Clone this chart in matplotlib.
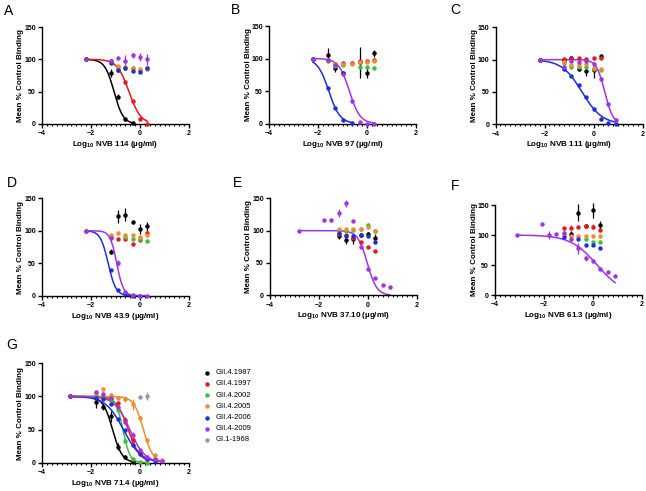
import numpy as np
import matplotlib.pyplot as plt
from matplotlib.ticker import MultipleLocator

plt.rcParams['font.family'] = ['Liberation Sans', 'DejaVu Sans']
plt.rcParams['mathtext.fontset'] = 'custom'
plt.rcParams['mathtext.rm'] = 'Liberation Sans'
plt.rcParams['mathtext.bf'] = 'Liberation Sans:bold'

nan = np.nan

# strains (legend order) and colours
strains = ['GII.4.1987', 'GII.4.1997', 'GII.4.2002', 'GII.4.2005',
           'GII.4-2006', 'GII.4-2009', 'GI.1-1968']
keys = ['1987', '1997', '2002', '2005', '2006', '2009', '1968']
colors = ['#000000', '#e8161f', '#3cbf3c', '#f28a2e', '#1f2fd6', '#a133e6', '#9a9a9a']

# ---- panel A : NVB 114
a_x = [-2.2, -1.2, -0.9, -0.6, -0.3, 0.0, 0.3]
a_mean = {
    '1987': [100, 79, 42, 7, 1, nan, nan],
    '1997': [100, 97, 83, 65, 35, 7, 0],
    '2002': [100, 96, 88, 87, 86, 84, 85],
    '2005': [100, 97, 90, 88, 87, 85, 86],
    '2006': [100, 95, 84, 86, 82, 81, 86],
    '2009': [100, 98, 102, 97, 106, 104, 100],
}
a_sd = {'1987': [0, 6, 4, 2, 0, 0, 0],
        '1997': [0, 2, 2, 3, 2, 1, 0],
        '2009': [0, 2, 2, 10, 4, 6, 9]}
a_fit = {'1987': (-1.06, 2.3), '1997': (-0.45, 1.8)}

# ---- panel B : NVB 97
b_x = [-2.2, -1.6, -1.3, -1.0, -0.6, -0.3, 0.0, 0.3]
b_mean = {
    '1987': [100, 106, 86, 77, nan, 94, 78, 108],
    '1997': [100, 98, 92, 93, 93, 96, 96, 97],
    '2002': [100, 96, 89, 90, nan, 87, 87, 85],
    '2005': [100, 97, 91, 92, 92, 95, 94, 96],
    '2006': [100, 54, 24, 5, 1, nan, nan, nan],
    '2009': [100, 97, 90, 76, 34, 3, 0, 0],
}
b_sd = {'1987': [0, 10, 6, 2, 0, 24, 8, 5],
        '2009': [0, 2, 2, 3, 3, 1, 0, 0]}
b_fit = {'2006': (-1.56, 1.9), '2009': (-0.72, 2.0)}

# ---- panel C : NVB 111
c_x = [-2.2, -1.2, -0.9, -0.6, -0.3, 0.0, 0.3, 0.6, 0.9]
c_mean = {
    '1987': [100, 100, 103, 85, 83, 84, 105, nan, nan],
    '1997': [100, 101, 103, 102, 101, 102, 102, nan, nan],
    '2002': [100, 95, 89, 88, 89, 86, 84, nan, nan],
    '2005': [100, 97, 92, 91, 93, 87, 85, nan, nan],
    '2006': [100, 86, 75, 61, 42, 24, 8, 2, 1],
    '2009': [100, 88, 98, 97, 98, 94, 70, 31, 7],
}
c_sd = {'1987': [0, 2, 2, 2, 8, 12, 2, 0, 0],
        '2006': [0, 2, 2, 2, 2, 3, 2, 1, 0],
        '2009': [0, 5, 2, 2, 2, 2, 3, 2, 3]}
c_fit = {'2006': (-0.47, 1.06), '2009': (0.46, 2.55)}

# ---- panel D : NVB 43.9
d_x = [-2.2, -1.2, -0.9, -0.6, -0.3, 0.0, 0.3]
d_mean = {
    '1987': [nan, 68, 122, 125, 114, 103, 107],
    '1997': [nan, 91, 87, 88, 80, 86, 97],
    '2002': [nan, nan, nan, 90, 87, 88, 85],
    '2005': [nan, 93, 96, 93, 94, 90, 93],
    '2006': [100, 40, 9, 2, 0, 0, nan],
    '2009': [100, 89, 50, 5, 1, 0, 0],
}
d_sd = {'1987': [0, 4, 10, 10, 1, 8, 7],
        '1997': [0, 0, 0, 0, 0, 0, 4],
        '2009': [0, 3, 5, 1, 0, 0, 0]}
d_fit = {'2006': (-1.30, 2.75), '2009': (-0.95, 3.2)}

# ---- panel E : NVB 37.10
e_x = [-2.8, -1.8, -1.5, -1.2, -0.9, -0.6, -0.3, 0.0, 0.3, 0.6, 0.9]
e_mean = {
    '1987': [nan, nan, nan, 92, 85, 87, 93, 95, 89, nan, nan],
    '1997': [nan, nan, nan, 95, 93, 88, 82, 74, 68, nan, nan],
    '2002': [nan, nan, nan, 101, 100, 101, 102, 108, 100, nan, nan],
    '2005': [nan, nan, nan, 103, 102, 102, 103, 106, 100, nan, nan],
    '2006': [nan, nan, nan, 96, 91, 91, 93, 92, 82, nan, nan],
    '2009': [100, 116, 116, 127, 142, 115, 74, 41, 26, 16, 13],
}
e_sd = {'1987': [0, 0, 0, 5, 6, 8, 3, 3, 6, 0, 0],
        '2002': [0, 0, 0, 0, 0, 0, 0, 4, 0, 0, 0],
        '2009': [0, 0, 3, 6, 5, 0, 1, 1, 0, 0, 0]}
e_fit = {'2009': (-0.03, 2.24)}

# ---- panel F : NVB 61.3
f_x = [-3.1, -2.1, -1.8, -1.5, -1.2, -0.9, -0.6, -0.3, 0.0, 0.3, 0.6, 0.9]
f_mean = {
    '1987': [nan, nan, nan, nan, nan, 101, 137, 115, 141, 116, nan, nan],
    '1997': [nan, nan, nan, nan, 111, 112, 114, 115, 114, 108, nan, nan],
    '2002': [nan, nan, nan, nan, nan, nan, nan, 94, 89, 89, nan, nan],
    '2005': [nan, nan, nan, nan, 102, 99, 99, 99, 99, 99, nan, nan],
    '2006': [nan, nan, nan, nan, 96, nan, 93, 83, 84, 78, nan, nan],
    '2009': [100, 118, 100, 102, 104, 94, 78, 61, 56, 44, 38, 32],
}
f_sd = {'1987': [0, 0, 0, 0, 0, 6, 14, 0, 12, 8, 0, 0],
        '1997': [0, 0, 0, 0, 0, 4, 0, 0, 4, 0, 0, 0],
        '2009': [0, 0, 6, 0, 5, 4, 9, 4, 3, 2, 0, 0]}
f_fit = {'2009': (0.17, 0.8)}

# ---- panel G : NVB 71.4
g_x = [-2.84, -1.8, -1.5, -1.2, -0.9, -0.6, -0.3, 0.0, 0.3, 0.6, 0.9]
g_mean = {
    '1987': [100, 91, 84, 70, 24, 8, 1, nan, nan, nan, nan],
    '1997': [100, 100, 99, 96, 90, 64, 34, 14, 5, nan, nan],
    '2002': [100, 100, 98, 95, 80, 33, 5, 1, 0, nan, nan],
    '2005': [100, 105, 111, 102, 97, 96, 88, 67, 34, 12, 4],
    '2006': [100, 97, 96, 88, 66, 50, 27, 13, 6, 3, nan],
    '2009': [100, 106, 104, 98, 84, 62, 42, 19, 8, 6, 2],
    '1968': [nan, nan, nan, nan, nan, nan, nan, 99, 100, nan, nan],
}
g_sd = {'1987': [0, 8, 5, 8, 5, 3, 0, 0, 0, 0, 0],
        '1997': [0, 0, 0, 0, 0, 5, 5, 0, 0, 0, 0],
        '2002': [0, 0, 0, 0, 0, 4, 0, 0, 0, 0, 0],
        '2005': [0, 0, 3, 3, 3, 5, 8, 3, 2, 1, 1],
        '2009': [0, 3, 3, 0, 0, 0, 5, 0, 0, 0, 0],
        '1968': [0, 0, 0, 0, 0, 0, 0, 0, 6, 0, 0]}
g_fit = {'1987': (-1.12, 2.2), '1997': (-0.48, 1.79), '2002': (-0.7, 3.0),
         '2005': (0.14, 2.2), '2006': (-0.68, 1.2), '2009': (-0.42, 1.4)}

# panel layout in pixels: letter, name, x-data, means, sds, fits, left, top, bottom
panels = [
    ('A', '114', a_x, a_mean, a_sd, a_fit, 42, 27, 124),
    ('B', '97', b_x, b_mean, b_sd, b_fit, 269, 26, 123.5),
    ('C', '111', c_x, c_mean, c_sd, c_fit, 495.5, 27.3, 124.3),
    ('D', '43.9', d_x, d_mean, d_sd, d_fit, 42, 198.3, 295.7),
    ('E', '37.10', e_x, e_mean, e_sd, e_fit, 270, 198.3, 295.3),
    ('F', '61.3', f_x, f_mean, f_sd, f_fit, 495, 205, 295),
    ('G', '71.4', g_x, g_mean, g_sd, g_fit, 42, 363.3, 462.7),
]
letter_pos = {'A': (9, 11), 'B': (235, 10), 'C': (455, 10), 'D': (12, 183),
              'E': (238, 183), 'F': (455, 186), 'G': (12, 345)}

W, H = 646.0, 491.0
AXW = 147.0


def logistic(x, logic50, hill):
    return 100.0 / (1.0 + 10.0 ** ((x - logic50) * hill))


fig = plt.figure(figsize=(6.46, 4.91), dpi=100)

for letter, name, xs, means, sds, fits, left, top, bot in panels:
    ax = fig.add_axes([left / W, 1 - bot / H, AXW / W, (bot - top) / H])
    xs = np.array(xs)

    # fitted curves
    for k, c in zip(keys, colors):
        if k in fits:
            y = np.array(means[k], dtype=float)
            ok = ~np.isnan(y)
            xx = np.linspace(xs[ok].min(), xs[ok].max(), 200)
            ax.plot(xx, logistic(xx, *fits[k]), color=c, lw=1.1, zorder=2)

    # points with error bars
    for k, c in zip(keys, colors):
        if k not in means:
            continue
        y = np.array(means[k], dtype=float)
        err = np.array(sds.get(k, [0] * len(xs)), dtype=float)
        ax.errorbar(xs, y, yerr=err, fmt='o', color=c, ms=3.2, mew=0,
                    elinewidth=0.9, capsize=2.0, capthick=0.9,
                    clip_on=False, zorder=3)

    ax.set_xlim(-4, 2)
    ax.set_ylim(0, 150)
    ax.set_xticks([-4, -2, 0, 2])
    ax.set_yticks([0, 50, 100, 150])
    ax.xaxis.set_minor_locator(MultipleLocator(0.2))
    for s in ['top', 'right']:
        ax.spines[s].set_visible(False)
    for s in ['left', 'bottom']:
        ax.spines[s].set_linewidth(1.0)
    ax.tick_params(which='major', length=3, width=1.0, pad=1.5,
                   labelsize=5)
    ax.tick_params(which='minor', length=1.6, width=0.8)
    for lab in ax.get_xticklabels() + ax.get_yticklabels():
        lab.set_fontweight('bold')

    # axis titles
    fig.text((left - 21) / W, 1 - (top + bot) / 2 / H, 'Mean % Control Binding',
             rotation=90, ha='center', va='center', fontsize=5.8,
             fontweight='bold')
    fig.text((left + AXW / 2) / W, 1 - (bot + 20.5) / H,
             r'Log$_{\mathbf{10}}$ NVB ' + name + ' (µg/ml)',
             ha='center', va='center', fontsize=5.8, fontweight='bold')
    lx, ly = letter_pos[letter]
    fig.text(lx / W, 1 - ly / H, letter, ha='center', va='center', fontsize=10)

# legend for panel G
leg = fig.add_axes([0, 0, 1, 1])
leg.set_xlim(0, W)
leg.set_ylim(H, 0)
leg.axis('off')
for i, (s, c) in enumerate(zip(strains, colors)):
    yy = 372.7 + 11.2 * i
    leg.plot([207], [yy], 'o', color=c, ms=3.2, mew=0)
    leg.text(216, yy, s, ha='left', va='center', fontsize=5.5)

fig.savefig('out.png', dpi=100)
